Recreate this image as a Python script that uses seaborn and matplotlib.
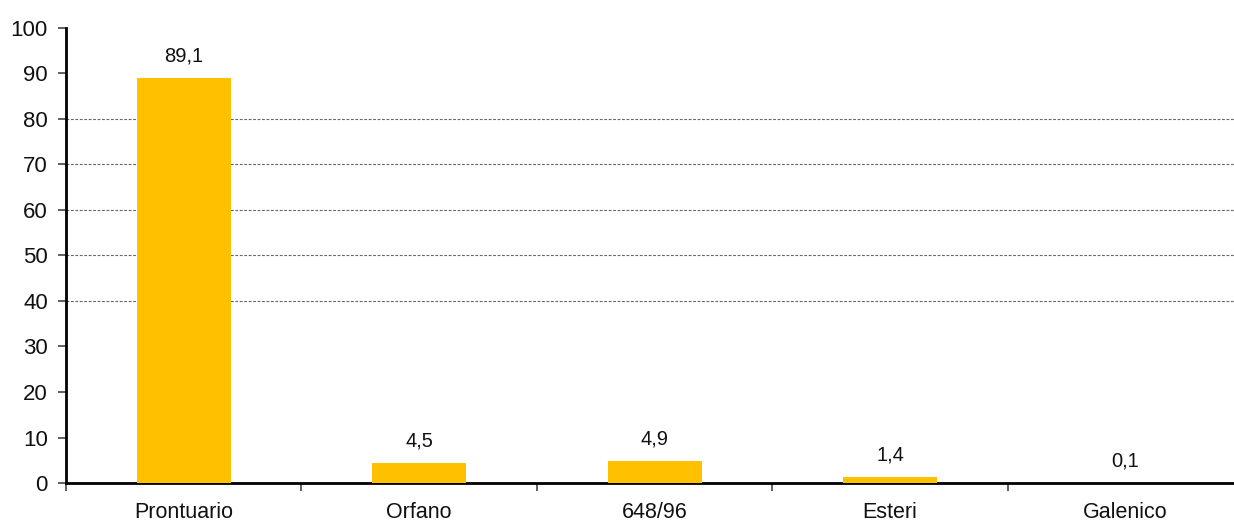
import matplotlib
matplotlib.use("Agg")
import matplotlib.pyplot as plt
import seaborn as sns
import pandas as pd
from matplotlib.ticker import FixedLocator

categories = ["Prontuario", "Orfano", "648/96", "Esteri", "Galenico"]
values = [89.1, 4.5, 4.9, 1.4, 0.1]
value_labels = ["89,1", "4,5", "4,9", "1,4", "0,1"]
y_ticks = [0, 10, 20, 30, 40, 50, 60, 70, 80, 90, 100]
grid_levels = [40, 50, 60, 70, 80]

sns.set_theme(style="white")
plt.rcParams["font.family"] = ["Liberation Sans Narrow", "Liberation Sans", "DejaVu Sans"]

df = pd.DataFrame({"categoria": categories, "valore": values})

fig = plt.figure(figsize=(12.34, 5.22), dpi=100)
ax = fig.add_axes([0.0535, 0.0747, 0.954, 0.8717])

sns.barplot(data=df, x="categoria", y="valore", color="#FFC000",
            saturation=1, width=0.4, linewidth=0, ax=ax, zorder=3)

ax.set_xlim(-0.5, len(categories) - 0.5)
ax.set_ylim(0, 100)
ax.set_yticks(y_ticks)
ax.set_xlabel("")
ax.set_ylabel("")

for lvl in grid_levels:
    ax.axhline(lvl, color="#666666", lw=0.8, ls=(0, (2.5, 1.5)), zorder=1)

for i, (v, lab) in enumerate(zip(values, value_labels)):
    ax.annotate(lab, xy=(i, v), xytext=(0, 9), textcoords="offset points",
                ha="center", va="bottom", fontsize=14.5, color="#111111")

for side in ["top", "right"]:
    ax.spines[side].set_visible(False)
for side in ["left", "bottom"]:
    ax.spines[side].set_color("black")
    ax.spines[side].set_linewidth(2)

ax.tick_params(axis="y", which="major", left=True, length=6, width=1.2,
               color="#444444", labelsize=16, pad=7, labelcolor="#111111")
ax.tick_params(axis="x", which="major", bottom=False, labelsize=15.5, pad=8,
               labelcolor="#111111")
ax.xaxis.set_minor_locator(FixedLocator([i - 0.5 for i in range(len(categories) + 1)]))
ax.tick_params(axis="x", which="minor", bottom=True, length=6, width=1.2, color="#444444")

fig.savefig("out.png", dpi=100)
